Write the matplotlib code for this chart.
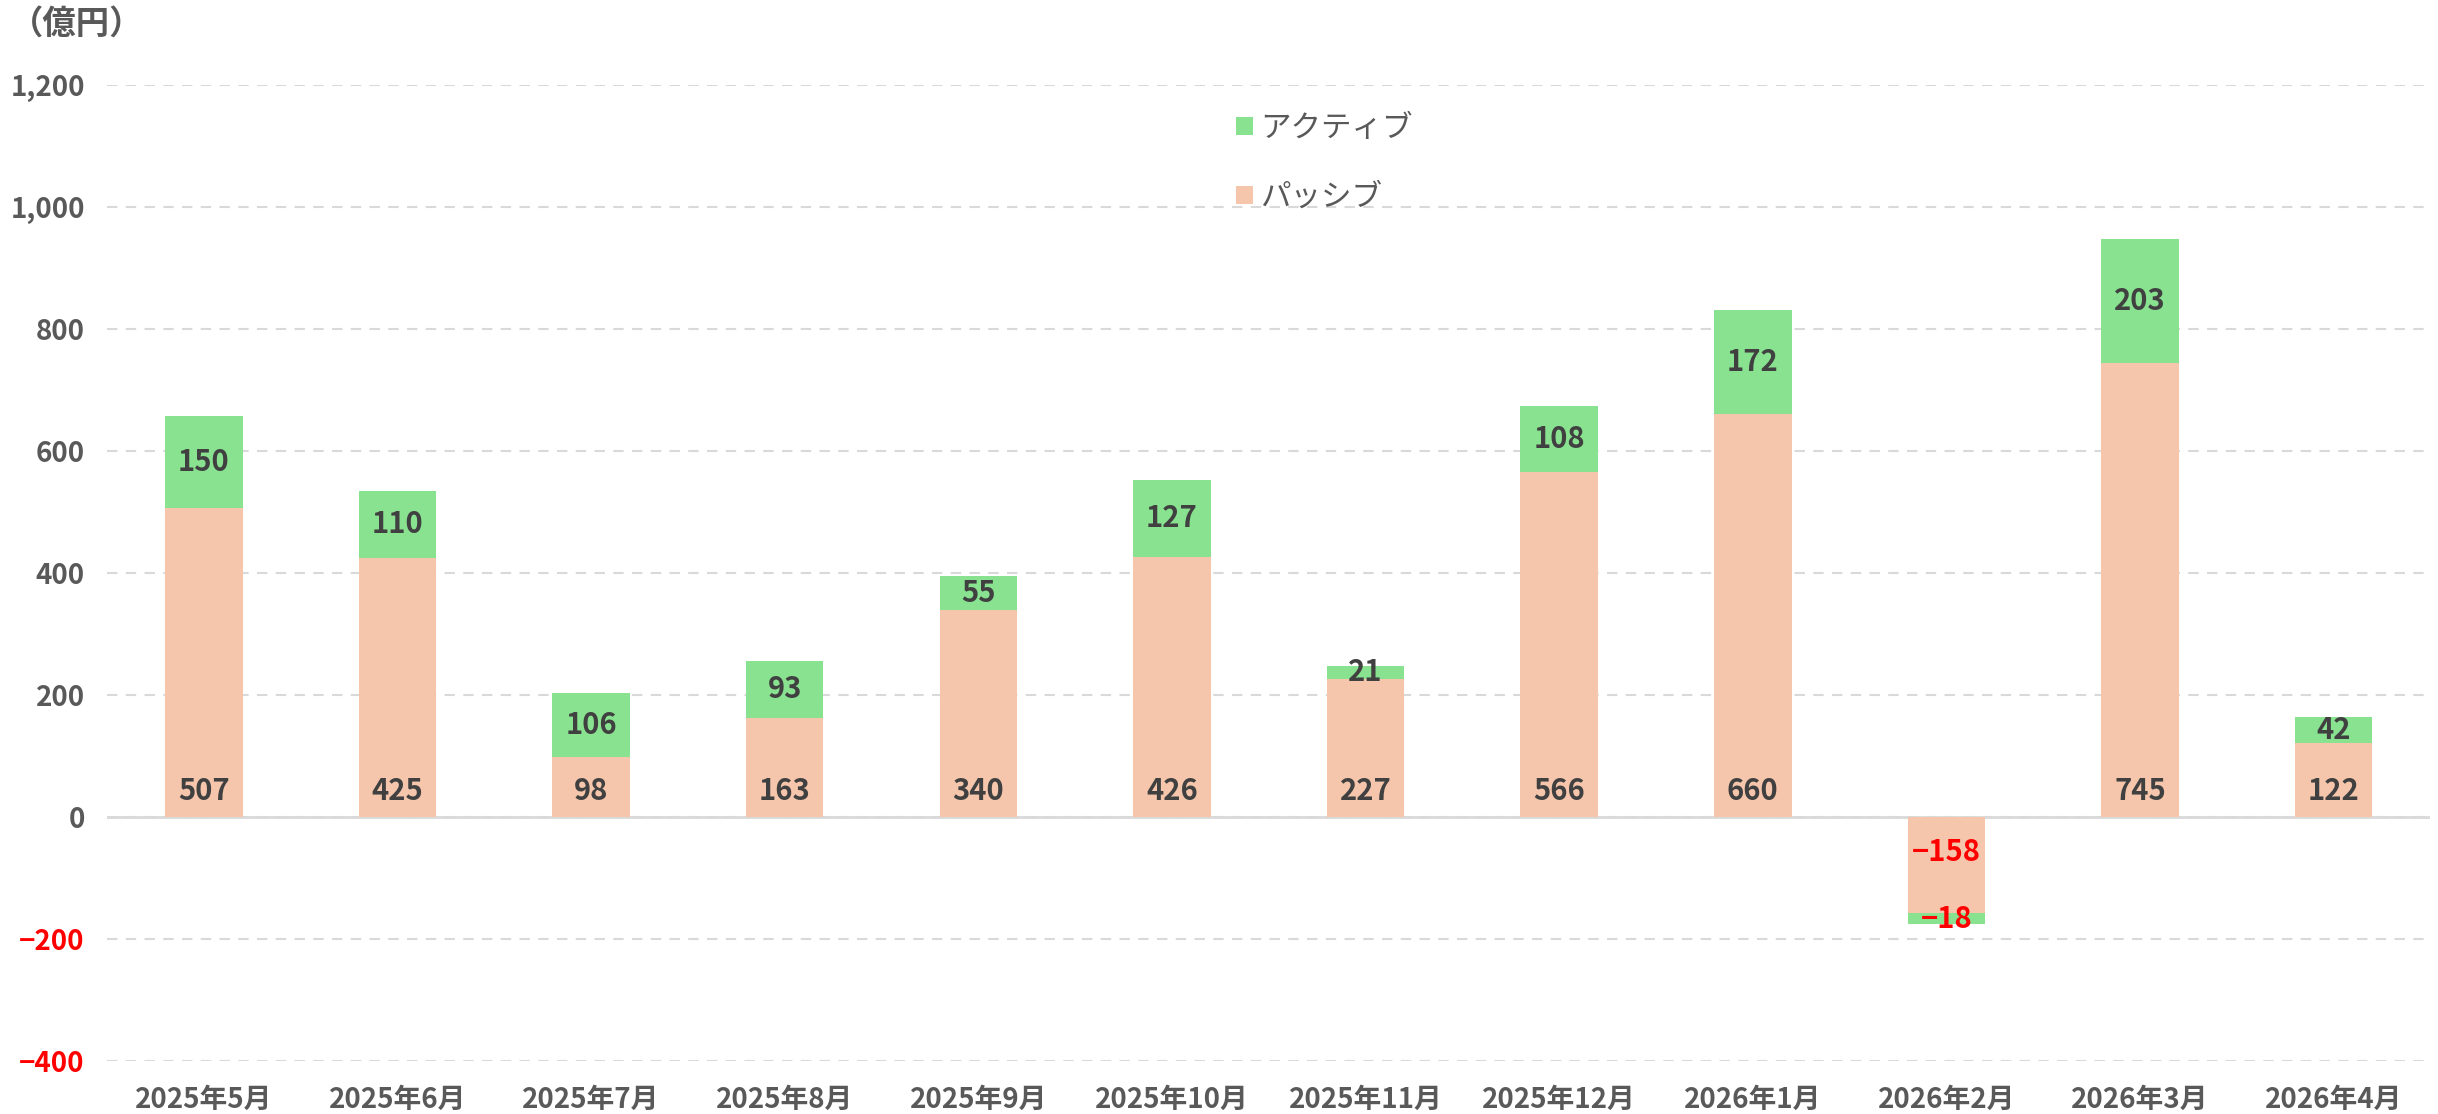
import numpy as np
import matplotlib
matplotlib.use("Agg")
import matplotlib.pyplot as plt
from matplotlib.ticker import FuncFormatter

plt.rcParams['font.family'] = ['Noto Sans CJK JP', 'DejaVu Sans']

# data (億円)
months = ['2025年5月', '2025年6月', '2025年7月', '2025年8月', '2025年9月', '2025年10月',
          '2025年11月', '2025年12月', '2026年1月', '2026年2月', '2026年3月', '2026年4月']
passive = [507, 425, 98, 163, 340, 426, 227, 566, 660, -158, 745, 122]
active = [150, 110, 106, 93, 55, 127, 21, 108, 172, -18, 203, 42]

c_active = '#88E290'
c_passive = '#F5C6AB'
txt = '#404040'
tick_c = '#595959'

fig = plt.figure(figsize=(24.38, 11.14), dpi=100)
ax = fig.add_axes([0.0439, 0.0476, 0.953, 0.876])

x = np.arange(len(months))
w = 0.40
ax.bar(x, passive, w, color=c_passive, label='パッシブ', zorder=2)
ax.bar(x, active, w, bottom=passive, color=c_active, label='アクティブ', zorder=2)

# labels
for i in range(len(months)):
    p, a = passive[i], active[i]
    col = 'red' if p < 0 else txt
    off = 19 if p >= 0 else -25
    ax.annotate(f'{p}'.replace('-', '−'), (x[i], 0), xytext=(0, off), textcoords='offset points',
                ha='center', va='center', fontsize=21, color=col, fontweight='bold', zorder=3)
    col = 'red' if a < 0 else txt
    ax.text(x[i], p + a / 2, f'{a}'.replace('-', '−'), ha='center', va='center',
            fontsize=21, color=col, fontweight='bold', zorder=3)

ax.set_xlim(-0.5, len(months) - 0.5)
ax.set_ylim(-400, 1200)
ax.set_yticks(np.arange(-400, 1201, 200))
ax.yaxis.set_major_formatter(FuncFormatter(lambda v, p: f'{int(v):,}'.replace('-', '−')))
ax.set_xticks(x)
ax.set_xticklabels(months)
ax.tick_params(axis='both', length=0, labelsize=20, colors=tick_c)
ax.tick_params(axis='y', pad=16)
ax.tick_params(axis='x', pad=18)
for lbl in ax.get_xticklabels() + ax.get_yticklabels():
    lbl.set_fontweight('bold')
for lbl, v in zip(ax.get_yticklabels(), ax.get_yticks()):
    if v < 0:
        lbl.set_color('red')
ax.grid(axis='y', color='#d9d9d9', linestyle=(0, (5, 4)), linewidth=1.5, zorder=0)
ax.axhline(0, color='#d9d9d9', linewidth=2, zorder=1)
for s in ax.spines.values():
    s.set_visible(False)

handles, labels = ax.get_legend_handles_labels()
ax.legend(handles[::-1], labels[::-1], loc='upper left', bbox_to_anchor=(0.474, 1.0),
          frameon=False, fontsize=22, handlelength=0.55, handleheight=0.55,
          handletextpad=0.25, labelspacing=1.25, labelcolor=tick_c)

fig.text(0.004, 0.978, '（億円）', fontsize=24, color=tick_c, ha='left', va='center',
         fontweight='bold')

fig.savefig('out.png', dpi=100)
